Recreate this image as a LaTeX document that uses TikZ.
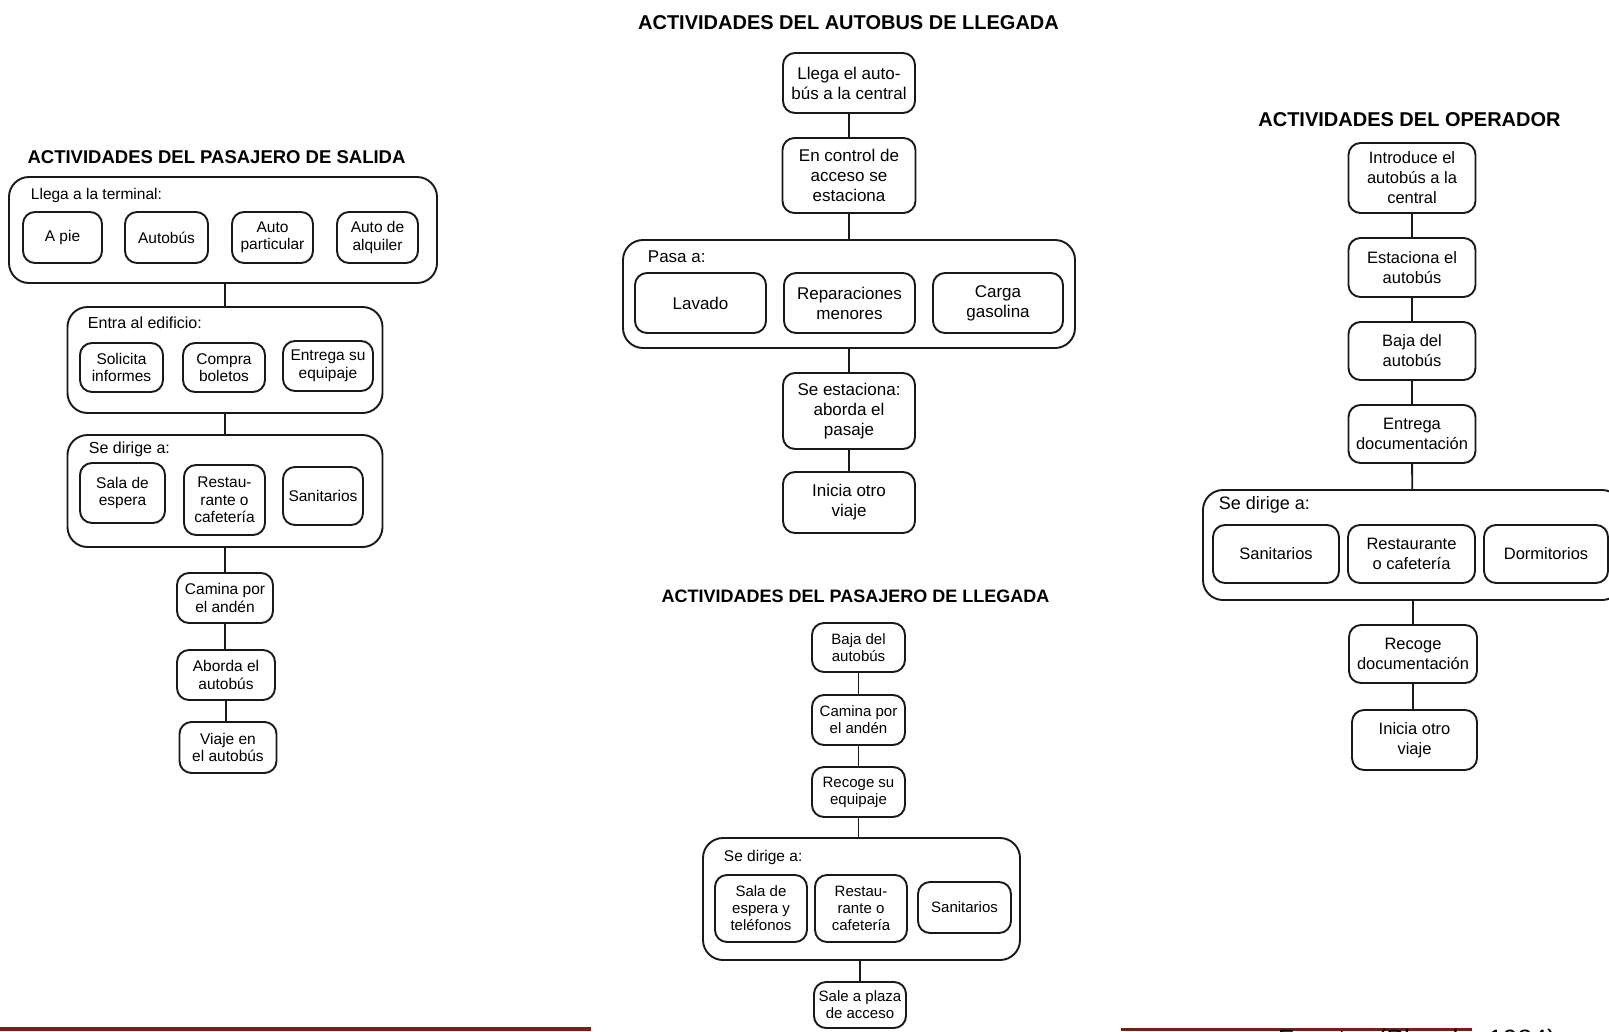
\documentclass[tikz,border=0pt]{standalone}
\usepackage{fontspec}
\setmainfont{Liberation Sans}
\usetikzlibrary{calc}
\definecolor{barra}{RGB}{116,32,22}
\definecolor{tinta}{RGB}{25,25,25}
\tikzset{
  box/.style={draw=tinta,rounded corners=12pt,align=center,inner sep=0pt},
  grp/.style={draw=tinta,rounded corners=20pt,inner sep=0pt},
  sz/.style 2 args={minimum width=#1pt,minimum height=#2pt},
  ttl/.style={font=\bfseries\fontsize{20}{24}\selectfont,inner sep=0pt},
  lbl/.style={anchor=west,inner sep=0pt},
}

\begin{document}
\begin{tikzpicture}[x=1pt,y=-1pt,line width=1.9pt]
  \useasboundingbox (0,0) rectangle (1609,1031);

  % pasajero de salida
  \begin{scope}[nodes={font=\fontsize{15.5}{17.5}\selectfont}]
  \node[ttl,font=\bfseries\fontsize{18.5}{22}\selectfont] (t1) at (216.5,157) {ACTIVIDADES DEL PASAJERO DE SALIDA};
  \node[grp,sz={428}{106}] (llega) at (223,230) {};
  \node[lbl,font=\fontsize{15.5}{18}\selectfont] (llegal) at (30,195) {Llega a la terminal:};
  \node[box,sz={79}{51}] (apie) at (62.5,237.5) {A pie};
  \node[box,sz={83}{51}] (autob) at (166.5,237.5) {Autobús};
  \node[box,sz={81}{51}] (apart) at (272.5,237.5) {Auto\\particular};
  \node[box,sz={81}{51}] (aalq) at (377.5,237.5) {Auto de\\alquiler};
  \node[grp,sz={315}{106}] (entra) at (225,360) {};
  \node[lbl,font=\fontsize{16}{18}\selectfont] (entral) at (87,323) {Entra al edificio:};
  \node[box,sz={83}{49}] (solic) at (121.5,367.5) {Solicita\\informes};
  \node[box,sz={82}{49}] (compra) at (224,367.5) {Compra\\boletos};
  \node[box,sz={90}{50}] (entreg) at (328,366) {Entrega su\\equipaje};
  \node[grp,sz={315}{112}] (dirig) at (225,491) {};
  \node[lbl,font=\fontsize{16}{18}\selectfont] (dirigl) at (88,449) {Se dirige a:};
  \node[box,sz={85}{60}] (sala) at (122.5,493) {Sala de\\espera};
  \node[box,sz={81}{70}] (rest) at (224.5,500) {Restau-\\rante o\\cafetería};
  \node[box,sz={80}{58}] (sanit) at (323,496) {Sanitarios};
  \node[box,sz={96}{50}] (camina) at (225,598) {Camina por\\el andén};
  \node[box,sz={98}{50}] (aborda) at (226,675) {Aborda el\\autobús};
  \node[box,sz={97}{51}] (viaje) at (228,747.5) {Viaje en\\el autobús};
  \draw[tinta] (llega.south -| entra) -- (entra);
  \draw[tinta] (entra) -- (dirig);
  \draw[tinta] (dirig) -- (dirig.south |- camina.north);
  \draw[tinta] (camina.south) -- (camina.south |- aborda.north);
  \draw[tinta] (aborda.south) -- (aborda.south |- viaje.north);
  \end{scope}

  % autobus de llegada
  \begin{scope}[nodes={font=\fontsize{17}{20}\selectfont}]
  \node[ttl] (t2) at (848.5,23) {ACTIVIDADES DEL AUTOBUS DE LLEGADA};
  \node[box,sz={132}{60}] (bllega) at (849,83) {Llega el auto-\\bús a la central};
  \node[box,sz={133}{75}] (bcontrol) at (849,175.5) {En control de\\acceso se\\estaciona};
  \node[grp,sz={452}{108}] (bpasa) at (849,294) {};
  \node[lbl] (bpasal) at (647,257) {Pasa a:};
  \node[box,sz={131}{60}] (blav) at (700.5,303) {Lavado};
  \node[box,sz={131}{60}] (brep) at (849.5,303) {Reparaciones\\menores};
  \node[box,sz={130}{60}] (bcarga) at (998,303) {Carga\\gasolina};
  \node[box,sz={132}{76}] (bestac) at (849,411) {Se estaciona:\\aborda el\\pasaje};
  \node[box,sz={132}{61}] (binicia) at (849,502.5) {Inicia otro\\viaje};
  \draw[tinta] (bllega) -- (bcontrol);
  \draw[tinta] (bcontrol) -- (bpasa);
  \draw[tinta] (bpasa) -- (bestac);
  \draw[tinta] (bestac) -- (binicia);
  \end{scope}

  % pasajero de llegada
  \begin{scope}[nodes={font=\fontsize{15}{17}\selectfont}]
  \node[ttl,font=\bfseries\fontsize{18}{22}\selectfont] (t3) at (855.5,596) {ACTIVIDADES DEL PASAJERO DE LLEGADA};
  \node[box,sz={93}{49}] (pbaja) at (858.5,647.5) {Baja del\\autobús};
  \node[box,sz={93}{50}] (pcamina) at (858.5,720) {Camina por\\el andén};
  \node[box,sz={93}{50}] (precoge) at (858.5,792) {Recoge su\\equipaje};
  \node[grp,sz={317}{122}] (pdirig) at (861.5,899) {};
  \node[lbl,font=\fontsize{15.5}{18}\selectfont] (pdirigl) at (723,857) {Se dirige a:};
  \node[box,sz={92}{67}] (psala) at (761,908.5) {Sala de\\espera y\\teléfonos};
  \node[box,sz={92}{67}] (prest) at (861,908.5) {Restau-\\rante o\\cafetería};
  \node[box,sz={93}{51}] (psanit) at (964.5,907.5) {Sanitarios};
  \node[box,sz={92}{46}] (psale) at (860,1005) {Sale a plaza\\de acceso};
  \draw[tinta] (pbaja) -- (pcamina);
  \draw[tinta] (pcamina) -- (precoge);
  \draw[tinta] (precoge.south) -- (precoge.south |- pdirig.north);
  \draw[tinta] (pdirig.south -| psale) -- (psale);
  \end{scope}

  % operador
  \begin{scope}[nodes={font=\fontsize{16.5}{20}\selectfont}]
  \node[ttl] (t4) at (1409.5,120) {ACTIVIDADES DEL OPERADOR};
  \node[box,sz={127}{70}] (ointro) at (1412,178) {Introduce el\\autobús a la\\central};
  \node[box,sz={127}{59}] (oestac) at (1412,267.5) {Estaciona el\\autobús};
  \node[box,sz={127}{58}] (obaja) at (1412,351) {Baja del\\autobús};
  \node[box,sz={127}{58}] (oentreg) at (1412,434) {Entrega\\documentación};
  \node[grp,sz={419}{110}] (odirig) at (1412.5,545) {};
  \node[lbl,font=\fontsize{18}{21}\selectfont] (odirigl) at (1218,505) {Se dirige a:};
  \node[box,sz={126}{58}] (osanit) at (1276,554) {Sanitarios};
  \node[box,sz={127}{58}] (orest) at (1411.5,554) {Restaurante\\o cafetería};
  \node[box,sz={124}{58}] (odorm) at (1546,554) {Dormitorios};
  \node[box,sz={128}{58}] (orecoge) at (1413,654) {Recoge\\documentación};
  \node[box,sz={125}{60}] (oinicia) at (1414.5,740) {Inicia otro\\viaje};
  \draw[tinta] (ointro) -- (oestac);
  \draw[tinta] (oestac) -- (obaja);
  \draw[tinta] (obaja) -- (oentreg);
  \draw[tinta] (oentreg) -- (odirig);
  \draw[tinta] (odirig.south -| orecoge) -- (orecoge);
  \draw[tinta] (orecoge.south) -- (orecoge.south |- oinicia.north);
  \end{scope}

  % pie de pagina
  \fill[barra] (0,1027) rectangle (591,1031);
  \fill[barra] (1121,1028) rectangle (1472,1031);
  \node[anchor=base west,inner sep=0pt,font=\fontsize{26.5}{30}\selectfont] (fuente) at (1277,1048) {Fuente: (Plazola, 1984)};
\end{tikzpicture}
\end{document}
